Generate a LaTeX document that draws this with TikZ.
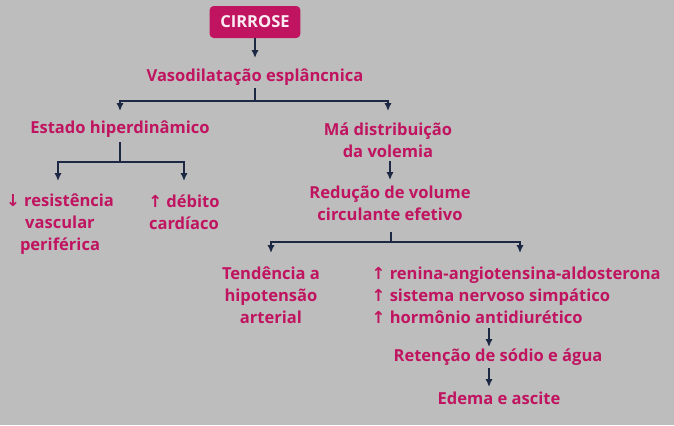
\documentclass[tikz,border=0pt]{standalone}
\usepackage{fontspec}
\setmainfont{Open Sans}
\newfontfamily\symfont{DejaVu Sans}
\usetikzlibrary{positioning,arrows.meta}
\definecolor{bggray}{RGB}{189,189,189}
\definecolor{cirpink}{RGB}{192,20,96}
\definecolor{linenavy}{RGB}{28,40,68}
\newcommand{\arrup}{{\symfont\char"2191}}
\newcommand{\arrdn}{{\symfont\char"2193}}

\begin{document}
\begin{tikzpicture}[
  x=0.75pt,y=-0.75pt,
  txt/.style={text=cirpink,font=\fontsize{12.4}{16.5}\selectfont\bfseries,align=center,inner sep=1pt},
  head/.style={rectangle,fill=cirpink,text=white!92!cirpink,font=\fontsize{12.4}{14}\selectfont\bfseries,
        minimum width=68pt,minimum height=24pt,rounded corners=3pt},
  line/.style={linenavy,line width=1.6pt},
  arrow/.style={-{Latex[length=6pt,width=5.5pt]},linenavy,line width=1.6pt}
]
\fill[bggray] (0,0) rectangle (674,425);
\useasboundingbox (0,0) rectangle (674,425);
\node[head] (cirrose) at (255,22) {CIRROSE};
\node[txt] (vaso) at (255,77) {Vasodilatação esplâncnica};
\node[txt] (estado) at (120,129) {Estado hiperdinâmico};
\node[txt] (ma) at (388,140) {Má distribuição\\da volemia};
\node[txt] (resist) at (60,224) {\arrdn{} resistência\\vascular\\periférica};
\node[txt] (debito) at (184,212) {\arrup{} débito\\cardíaco};
\node[txt] (reducao) at (390,203) {Redução de volume\\circulante efetivo};
\node[txt] (tend) at (271,295) {Tendência a\\hipotensão\\arterial};
\node[txt,align=left,anchor=west] (renina) at (370,295) {\arrup{} renina-angiotensina-aldosterona\\\arrup{} sistema nervoso simpático\\\arrup{} hormônio antidiurético};
\node[txt] (retencao) at (498,357) {Retenção de sódio e água};
\node[txt] (edema) at (499,398) {Edema e ascite};
% pontos dos ramos
\coordinate (vasotop) at (255,58);
\coordinate (vasobot) at (255,88);
\coordinate (v1) at (255,101);
\coordinate (estadotop) at (120,111);
\coordinate (matop) at (388,111);
\coordinate (estadobot) at (120,142);
\coordinate (e1) at (120,162);
\coordinate (resisttop) at (58,181);
\coordinate (debitotop) at (184,181);
\coordinate (mabot) at (390,161);
\coordinate (reducaotop) at (390,180);
\coordinate (reducaobot) at (391,232);
\coordinate (r1) at (391,242);
\coordinate (tendtop) at (271,253);
\coordinate (reninatop) at (520,253);
\coordinate (reninabot) at (489,328);
\coordinate (retencaotop) at (489,347);
\coordinate (retencaobot) at (489,368);
\coordinate (edematop) at (489,387);
\draw[arrow] (cirrose) -- (vasotop);
\draw[line] (vasobot) -- (v1);
\draw[arrow] (v1) -| (estadotop);
\draw[arrow] (v1) -| (matop);
\draw[line] (estadobot) -- (e1);
\draw[arrow] (e1) -| (resisttop);
\draw[arrow] (e1) -| (debitotop);
\draw[arrow] (mabot) -- (reducaotop);
\draw[line] (reducaobot) -- (r1);
\draw[arrow] (r1) -| (tendtop);
\draw[arrow] (r1) -| (reninatop);
\draw[arrow] (reninabot) -- (retencaotop);
\draw[arrow] (retencaobot) -- (edematop);
\end{tikzpicture}
\end{document}
